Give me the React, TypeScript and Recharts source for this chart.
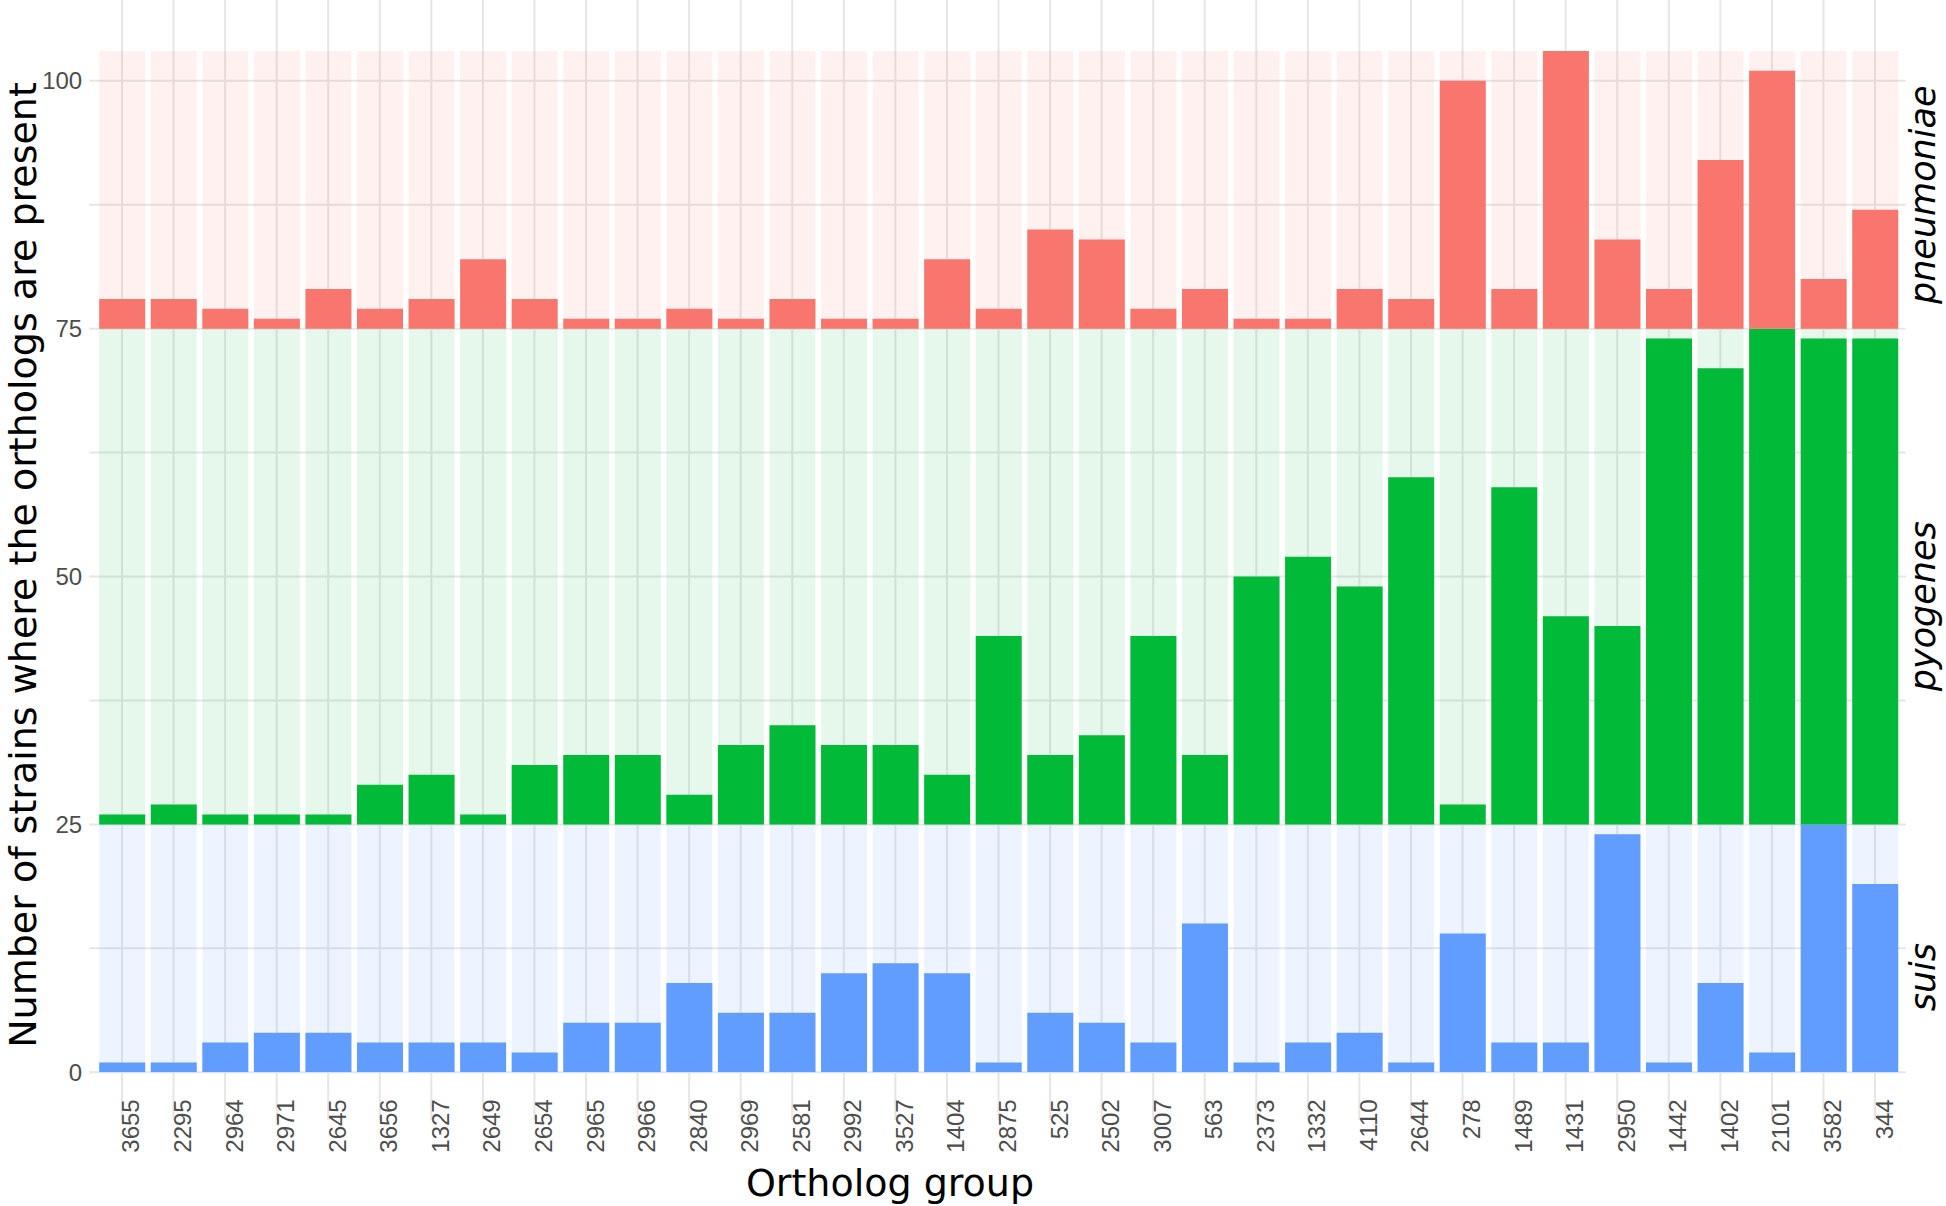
import { Bar, BarChart, CartesianGrid, XAxis, YAxis } from "recharts";

// ortholog groups, left to right
const groups = [
  "3655", "2295", "2964", "2971", "2645", "3656", "1327", "2649", "2654", "2965",
  "2966", "2840", "2969", "2581", "2992", "3527", "1404", "2875", "525", "2502",
  "3007", "563", "2373", "1332", "4110", "2644", "278", "1489", "1431", "2950",
  "1442", "1402", "2101", "3582", "344",
];

// strains per species in which each group is present
const suis = [1, 1, 3, 4, 4, 3, 3, 3, 2, 5, 5, 9, 6, 6, 10, 11, 10, 1, 6, 5, 3, 15, 1, 3, 4, 1, 14, 3, 3, 24, 1, 9, 2, 25, 19];
const pyogenes = [1, 2, 1, 1, 1, 4, 5, 1, 6, 7, 7, 3, 8, 10, 8, 8, 5, 19, 7, 9, 19, 7, 25, 27, 24, 35, 2, 34, 21, 20, 49, 46, 50, 49, 49];
const pneumoniae = [3, 3, 2, 1, 4, 2, 3, 7, 3, 1, 1, 2, 1, 3, 1, 1, 7, 2, 10, 9, 2, 4, 1, 1, 4, 3, 25, 4, 28, 9, 4, 17, 26, 5, 12];

// each species sits in its own band of the shared y scale
const bandFloors = [0, 25, 75]; // suis, pyogenes, pneumoniae
const yMax = 103;
const yTicks = [0, 25, 50, 75, 100];
const gridValues = [0, 12.5, 25, 37.5, 50, 62.5, 75, 87.5, 100];
const stripNames = ["pneumoniae", "pyogenes", "suis"];
const stripTicks = [88.5, 47, 9.6];

const RED = "#F8766D";
const GREEN = "#00BA38";
const BLUE = "#619CFF";
const GRID = "#E6E6E6";

const rows = groups.map((group, i) => ({
  group,
  suis: suis[i],
  pyogenes: [bandFloors[1], bandFloors[1] + pyogenes[i]],
  pneumoniae: [bandFloors[2], bandFloors[2] + pneumoniae[i]],
  bgSuis: bandFloors[1] - bandFloors[0],
  bgPyogenes: bandFloors[2] - bandFloors[1],
  bgPneumoniae: yMax - bandFloors[2],
}));

function GroupTick({ x, y, payload }: any) {
  return (
    <text
      transform={`translate(${x + 17.5},${y - 3}) rotate(-90)`}
      textAnchor="end"
      fontSize={24}
      fontFamily="Liberation Sans, Arial, sans-serif"
      fill="#4D4D4D"
    >
      {payload.value}
    </text>
  );
}

function StripTick({ x, y, index }: any) {
  return (
    <text
      transform={`translate(${x},${y}) rotate(-90)`}
      textAnchor="middle"
      fontSize={35}
      fontStyle="italic"
      fontFamily="DejaVu Sans, sans-serif"
      fill="#000"
    >
      {stripNames[index]}
    </text>
  );
}

// grid lines run through the middle of each category band
function centerLines({ offset }: any) {
  const step = offset.width / groups.length;
  return groups.map((_, i) => offset.left + (i + 0.5) * step);
}

export default function App() {
  const barSize = 46;
  return (
    <div style={{ position: "absolute", left: 0, top: 0, width: 1946, height: 1206, background: "#fff" }}>
      <BarChart
        width={1946}
        height={1206}
        data={rows}
        margin={{ top: 51, right: 0, bottom: 73.7, left: 36.2 }}
      >
        <CartesianGrid
          xAxisId="main"
          yAxisId={0}
          horizontalValues={gridValues}
          verticalCoordinatesGenerator={centerLines}
          horizontal={(p: any) => (
            <line key={`h-${p.index}`} x1={p.x1 - 7} x2={p.x2 + 5} y1={p.y1} y2={p.y2} stroke={GRID} strokeWidth={2} />
          )}
          vertical={(p: any) => (
            <line key={`v-${p.index}`} x1={p.x1} x2={p.x2} y1={0} y2={1120} stroke={GRID} strokeWidth={2} />
          )}
        />
        <XAxis
          xAxisId="main"
          dataKey="group"
          interval={0}
          height={60}
          axisLine={false}
          tickLine={false}
          tickSize={0}
          tickMargin={0}
          tick={<GroupTick />}
          label={{
            content: () => (
              <text x={890} y={1196} textAnchor="middle" fontSize={38} fontFamily="DejaVu Sans, sans-serif" fill="#000">
                Ortholog group
              </text>
            ),
          }}
        />
        <XAxis xAxisId="bg" dataKey="group" hide />
        <XAxis xAxisId="pyo" dataKey="group" hide />
        <XAxis xAxisId="pne" dataKey="group" hide />
        <YAxis
          yAxisId={0}
          type="number"
          domain={[0, yMax]}
          ticks={yTicks}
          allowDataOverflow
          width={60}
          axisLine={false}
          tickLine={false}
          tickSize={0}
          tickMargin={14}
          tick={{ fontSize: 24, fill: "#4D4D4D", fontFamily: "Liberation Sans, Arial, sans-serif" }}
          label={{
            content: () => (
              <text
                transform="translate(36,565) rotate(-90)"
                textAnchor="middle"
                fontSize={38}
                fontFamily="DejaVu Sans, sans-serif"
                fill="#000"
              >
                Number of strains where the orthologs are present
              </text>
            ),
          }}
        />
        <YAxis
          yAxisId="strip"
          orientation="right"
          type="number"
          domain={[0, yMax]}
          ticks={stripTicks}
          allowDataOverflow
          width={45.2}
          axisLine={false}
          tickLine={false}
          tickSize={0}
          tickMargin={34}
          tick={<StripTick />}
        />
        <Bar xAxisId="bg" yAxisId="strip" dataKey="bgSuis" stackId="bg" fill={BLUE} fillOpacity={0.11} barSize={barSize} isAnimationActive={false} />
        <Bar xAxisId="bg" yAxisId="strip" dataKey="bgPyogenes" stackId="bg" fill={GREEN} fillOpacity={0.1} barSize={barSize} isAnimationActive={false} />
        <Bar xAxisId="bg" yAxisId="strip" dataKey="bgPneumoniae" stackId="bg" fill={RED} fillOpacity={0.1} barSize={barSize} isAnimationActive={false} />
        <Bar xAxisId="main" dataKey="suis" fill={BLUE} barSize={barSize} isAnimationActive={false} />
        <Bar xAxisId="pyo" dataKey="pyogenes" fill={GREEN} barSize={barSize} isAnimationActive={false} />
        <Bar xAxisId="pne" dataKey="pneumoniae" fill={RED} barSize={barSize} isAnimationActive={false} />
      </BarChart>
    </div>
  );
}
